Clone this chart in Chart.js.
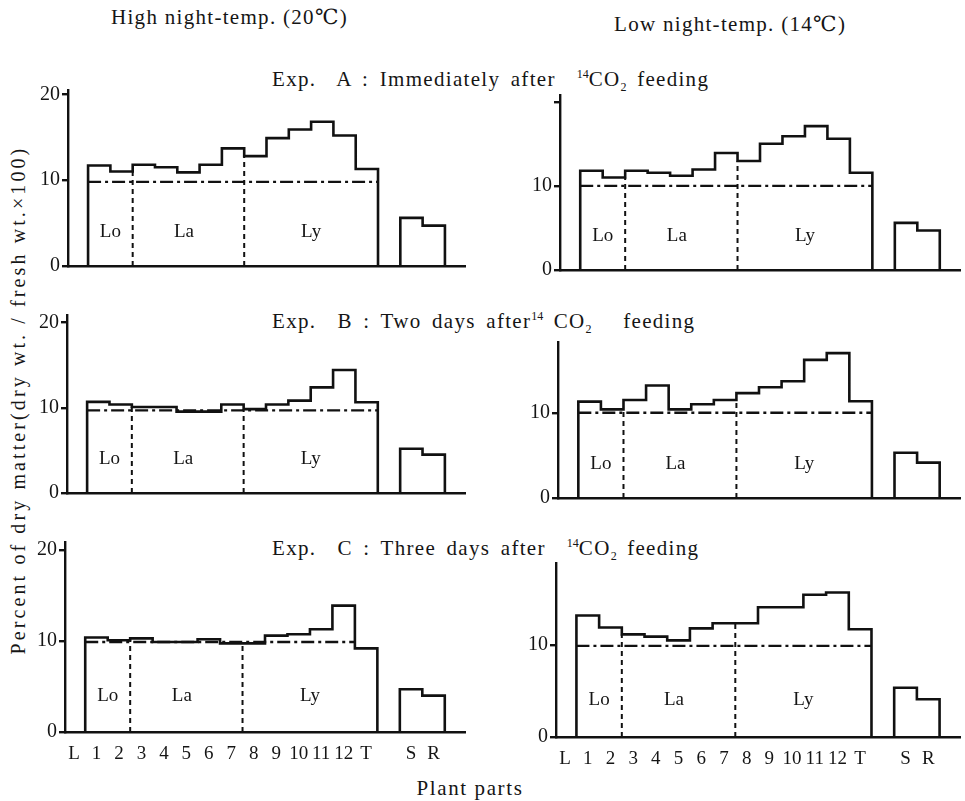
<!DOCTYPE html>
<html>
<head>
<meta charset="utf-8">
<script src="https://cdn.jsdelivr.net/npm/chart.js@4.4.0/dist/chart.umd.min.js"></script>
<style>
body { margin: 0; background: #fff; width: 965px; height: 801px; position: relative; overflow: hidden;
       font-family: "Liberation Serif", "DejaVu Serif", serif; color: #151515; }
canvas { position: absolute; }
.t { position: absolute; white-space: nowrap; font-size: 21px; line-height: 1; letter-spacing: 1.3px; }
.e { word-spacing: 4px; }
.t sup, .t sub { font-size: 12px; letter-spacing: 0; }
</style>
</head>
<body>

<div class="t" style="left:111px;top:7px;">High night-temp. (20℃)</div>
<div class="t" style="left:614px;top:14px;">Low night-temp. (14℃)</div>
<div class="t e" style="left:272px;top:68px;">Exp.&nbsp; A : Immediately after &nbsp;<sup>14</sup>CO<sub>2</sub> feeding</div>
<div class="t e" style="left:272px;top:310px;">Exp.&nbsp; B : Two days after<sup>14</sup> CO<sub>2</sub> &nbsp; feeding</div>
<div class="t e" style="left:272px;top:537px;">Exp.&nbsp; C : Three days after &nbsp;<sup>14</sup>CO<sub>2</sub> feeding</div>
<div class="t" style="left:470px;top:778px;transform:translateX(-50%);letter-spacing:1.6px;">Plant parts</div>
<div class="t" style="left:18px;top:400px;font-size:20px;letter-spacing:3.1px;transform:translate(-50%,-50%) rotate(-90deg);">Percent of dry matter(dry wt. / fresh wt.×100)</div>

<canvas id="hA"></canvas>
<canvas id="lA"></canvas>
<canvas id="hB"></canvas>
<canvas id="lB"></canvas>
<canvas id="hC"></canvas>
<canvas id="lC"></canvas>

<script>
// x positions: L=0, 1..12, T=13, gap=14, S=15, R=16
const xLabels = ['L', '1', '2', '3', '4', '5', '6', '7', '8', '9', '10', '11', '12', 'T', '', 'S', 'R', ''];

// leaf 1..12 and T
const highA = [11.7, 11.0, 11.8, 11.5, 10.9, 11.8, 13.7, 12.8, 14.9, 15.9, 16.8, 15.2, 11.3];
const lowA  = [11.8, 11.0, 11.8, 11.55, 11.2, 11.95, 13.9, 12.95, 15.0, 15.9, 17.1, 15.6, 11.55];
const highB = [10.7, 10.4, 10.1, 10.1, 9.55, 9.55, 10.4, 9.85, 10.4, 10.85, 12.4, 14.45, 10.65];
const lowB  = [11.3, 10.4, 11.5, 13.2, 10.4, 11.0, 11.5, 12.3, 13.0, 13.7, 16.2, 17.0, 11.35];
const highC = [10.4, 10.1, 10.3, 9.9, 9.9, 10.2, 9.75, 9.75, 10.6, 10.75, 11.3, 13.9, 9.2];
const lowC  = [13.2, 11.9, 11.15, 10.9, 10.5, 11.8, 12.35, 12.35, 14.1, 14.1, 15.45, 15.7, 11.7];

// S and R
const highA_SR = [5.6, 4.7];
const lowA_SR  = [5.6, 4.7];
const highB_SR = [5.2, 4.5];
const lowB_SR  = [5.3, 4.15];
const highC_SR = [4.7, 4.0];
const lowC_SR  = [5.35, 4.1];

// dash-dot reference level and where it stops
const refLevel = [9.8, 10.0, 9.7, 10.0, 9.9, 9.9];
const refEnd   = [13.5, 13.5, 13.5, 13.5, 12.5, 13.5];

// Lo | La | Ly borders and labels
const dividers = [2.5, 7.5];
const regionNames = ['Lo', 'La', 'Ly'];
const regionX = [1.5, 4.8, 10.5];
const regionY = 4;

const SERIF = '"Liberation Serif", "DejaVu Serif", serif';
const YW = 40, PT = 14, PR = 6;

const panels = [
    { id: 'hA', vals: highA, sr: highA_SR, left: 68,  right: 465, top: 90,  bottom: 277, ymax: 20.5, hide20: false, xlab: false },
    { id: 'lA', vals: lowA,  sr: lowA_SR,  left: 560, right: 960, top: 95,  bottom: 281, ymax: 20.8, hide20: true,  xlab: false },
    { id: 'hB', vals: highB, sr: highB_SR, left: 67,  right: 465, top: 315, bottom: 504, ymax: 20.9, hide20: false, xlab: false },
    { id: 'lB', vals: lowB,  sr: lowB_SR,  left: 558, right: 960, top: 342, bottom: 509, ymax: 18.3, hide20: true,  xlab: false },
    { id: 'hC', vals: highC, sr: highC_SR, left: 65,  right: 465, top: 542, bottom: 732, ymax: 20.9, hide20: false, xlab: true },
    { id: 'lC', vals: lowC,  sr: lowC_SR,  left: 556, right: 960, top: 563, bottom: 737, ymax: 18.9, hide20: true,  xlab: true },
];

// outline of adjacent bars: up, across, down
function steps(values, first) {
    const pts = [{ x: first - 0.5, y: 0 }];
    values.forEach((v, i) => {
        pts.push({ x: first + i - 0.5, y: v });
        pts.push({ x: first + i + 0.5, y: v });
    });
    pts.push({ x: first + values.length - 0.5, y: 0 });
    return pts;
}

const regionLabels = {
    id: 'regionLabels',
    afterDatasetsDraw(chart) {
        const ctx = chart.ctx;
        const xs = chart.scales.x, ys = chart.scales.y;
        ctx.save();
        ctx.font = '19px ' + SERIF;
        ctx.fillStyle = '#151515';
        ctx.textAlign = 'center';
        ctx.textBaseline = 'middle';
        regionNames.forEach((name, i) => {
            ctx.fillText(name, xs.getPixelForValue(regionX[i]), ys.getPixelForValue(regionY));
        });
        ctx.restore();
    }
};

panels.forEach((p, k) => {
    const XH = p.xlab ? 30 : 3;
    const cv = document.getElementById(p.id);
    const w = YW + (p.right - p.left) + PR;
    const h = PT + (p.bottom - p.top) + XH;
    cv.style.left = (p.left - YW) + 'px';
    cv.style.top = (p.top - PT) + 'px';
    cv.style.width = w + 'px';
    cv.style.height = h + 'px';
    cv.width = w;
    cv.height = h;

    const v = p.vals;
    const line = { borderColor: '#111', borderWidth: 2.6, pointRadius: 0, fill: false, tension: 0 };

    const datasets = [
        { ...line, data: steps(v, 1) },
        { ...line, data: steps(p.sr, 15) },
        { ...line, borderWidth: 2.4, borderDash: [13, 4, 3, 4],
          data: [{ x: 0.5, y: refLevel[k] }, { x: refEnd[k], y: refLevel[k] }] },
    ];
    dividers.forEach(d => {
        const a = v[Math.floor(d) - 1], b = v[Math.ceil(d) - 1];
        datasets.push({ ...line, borderWidth: 2, borderDash: [5, 4],
            data: [{ x: d, y: 0 }, { x: d, y: Math.min(a, b) }] });
    });

    new Chart(cv, {
        type: 'line',
        data: { datasets: datasets },
        options: {
            responsive: false,
            animation: false,
            events: [],
            layout: { padding: { top: PT, right: PR, left: 0, bottom: 0 } },
            plugins: { legend: { display: false }, tooltip: { enabled: false } },
            scales: {
                x: {
                    type: 'linear',
                    min: -0.4,
                    max: 17.4,
                    afterBuildTicks: s => { s.ticks = xLabels.map((_, i) => ({ value: i })); },
                    afterFit: s => { s.height = XH; },
                    grid: { display: false },
                    border: { display: true, color: '#111', width: 2.4 },
                    ticks: {
                        display: p.xlab,
                        autoSkip: false,
                        maxRotation: 0,
                        padding: 3,
                        color: '#151515',
                        font: { family: SERIF, size: 19 },
                        callback: val => xLabels[val] || '',
                    },
                },
                y: {
                    type: 'linear',
                    min: 0,
                    max: p.ymax,
                    afterBuildTicks: s => {
                        s.ticks = [0, 10, 20].filter(t => t <= p.ymax).map(t => ({ value: t }));
                    },
                    afterFit: s => { s.width = YW; },
                    grid: { display: true, drawOnChartArea: false, drawTicks: true, tickLength: 6,
                            color: '#111', lineWidth: 2.4 },
                    border: { display: true, color: '#111', width: 2.4 },
                    ticks: {
                        padding: 2,
                        color: '#151515',
                        font: { family: SERIF, size: 20 },
                        callback: val => (p.hide20 && val === 20) ? '' : val,
                    },
                },
            },
        },
        plugins: [regionLabels],
    });
});
</script>
</body>
</html>
